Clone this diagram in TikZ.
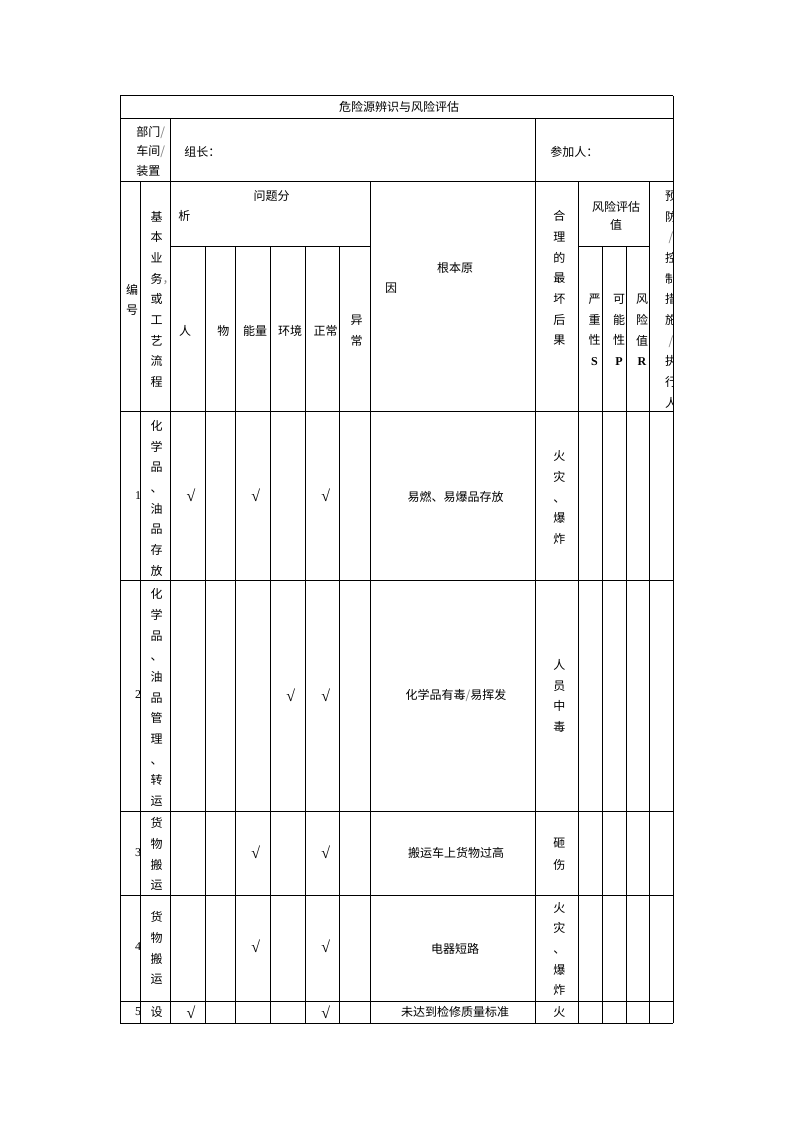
\documentclass[tikz,border=0pt]{standalone}
\usepackage{fontspec}
\newfontfamily\cjk{Noto Sans CJK SC}
\newfontfamily\ser{Liberation Serif}
\begin{document}
\begin{tikzpicture}[x=0.75pt,y=-0.75pt,
  grid/.style={line width=0.75pt,black},
  txt/.style={inner sep=0pt,font=\cjk\fontsize{9}{15.5}\selectfont},
  vt/.style={txt,align=center},
  vtl/.style={txt,align=left,font=\cjk\fontsize{9}{14.6}\selectfont},
  chk/.style={inner sep=0pt,font=\ser\fontsize{12}{12}\selectfont},
  num/.style={inner sep=0pt,anchor=east,font=\ser\fontsize{9}{9}\selectfont},
]
\useasboundingbox (0,0) rectangle (794,1123);
\fill[white] (0,0) rectangle (794,1123);

% ---------- texts ----------
\node[txt] (title) at (399,107) {危险源辨识与风险评估};
\node[vtl,anchor=west] (dept) at (136,151.3) {部门\textcolor{gray}{/}\\车间\textcolor{gray}{/}\\装置};
\node[txt,anchor=west] (leader) at (184,152) {组长：};
\node[txt,anchor=west] (part) at (550,152) {参加人：};

\node[vt] (bh) at (132,300) {编\\号};
\node[vt] (jb) at (156.7,299.3) {基\\本\\业\\务\rlap{\textcolor{gray}{，}}\\或\\工\\艺\\流\\程};
\node[txt] (wtf) at (271.7,196) {问题分};
\node[txt] (xi) at (184.3,216) {析};
\node[txt] (hren) at (185,330.7) {人};
\node[txt] (hwu) at (223.3,330.7) {物};
\node[txt] (hnl) at (255,330.7) {能量};
\node[txt] (hhj) at (290,330.7) {环境};
\node[txt] (hzc) at (325.7,330.7) {正常};
\node[vt] (hyc) at (356.7,330.5) {异\\常};
\node[txt] (gby) at (455,267.7) {根本原};
\node[txt] (yin) at (391,288.3) {因};
\node[vt] (hlg) at (559.3,278.4) {合\\理\\的\\最\\坏\\后\\果};
\node[vt,font=\cjk\fontsize{9}{13.7}\selectfont] (fxpg) at (616,216) {风险评估\\值};
\node[vt] (sS) at (594.5,330) {严\\重\\性\\{\ser\bfseries S}};
\node[vt] (sP) at (619,330) {可\\能\\性\\{\ser\bfseries P}};
\node[vt] (sR) at (642,330) {风\\险\\值\\{\ser\bfseries R}};
\begin{scope}
\clip (649.7,181.7) rectangle (673.3,411.7);
\node[vt] (yf) at (671,299.5) {预\\防\\\textcolor{gray}{/}\\控\\制\\措\\施\\\textcolor{gray}{/}\\执\\行\\人};
\end{scope}

% row 1
\node[num] (n1) at (141.5,495.7) {1};
\node[vt] (b1) at (156.7,498.3) {化\\学\\品\\、\\油\\品\\存\\放};
\node[chk] (c1a) at (191,495.7) {√};
\node[chk] (c1b) at (255.7,495.7) {√};
\node[chk] (c1c) at (325.7,495.7) {√};
\node[txt] (r1) at (455.7,496.7) {易燃、易爆品存放};
\node[vt] (h1) at (559.3,497.8) {火\\灾\\、\\爆\\炸};

% row 2
\node[num] (n2) at (141.5,695) {2};
\node[vt] (b2) at (156.7,697.5) {化\\学\\品\\、\\油\\品\\管\\理\\、\\转\\运};
\node[chk] (c2a) at (290.7,695) {√};
\node[chk] (c2b) at (325.7,695) {√};
\node[txt] (r2) at (456,695.7) {化学品有毒\textcolor{gray}{/}易挥发};
\node[vt] (h2) at (559.3,695.8) {人\\员\\中\\毒};

% row 3
\node[num] (n3) at (141.5,852.7) {3};
\node[vt] (b3) at (156.7,854.3) {货\\物\\搬\\运};
\node[chk] (c3a) at (255.7,852.7) {√};
\node[chk] (c3b) at (325.7,852.7) {√};
\node[txt] (r3) at (456,853.3) {搬运车上货物过高};
\node[vt,font=\cjk\fontsize{9}{16.5}\selectfont] (h3) at (559.3,853.8) {砸\\伤};

% row 4
\node[num] (n4) at (141.5,946.7) {4};
\node[vt] (b4) at (156.7,948.3) {货\\物\\搬\\运};
\node[chk] (c4a) at (255.7,946.7) {√};
\node[chk] (c4b) at (325.7,946.7) {√};
\node[txt] (r4) at (455,949) {电器短路};
\node[vt] (h4) at (559.3,949) {火\\灾\\、\\爆\\炸};

% row 5
\node[num] (n5) at (141.5,1012) {5};
\node[txt] (b5) at (156.7,1012) {设};
\node[chk] (c5a) at (191,1012) {√};
\node[chk] (c5b) at (325.7,1012) {√};
\node[txt] (r5) at (455,1012) {未达到检修质量标准};
\node[txt] (h5) at (559.3,1012) {火};

% ---------- grid ----------
\begin{scope}[grid]
\foreach \y in {96,118.3,181.7,411.7,580.7,811.5,895.3,1001.3,1023}
  \draw (120.3,\y) -- (673.3,\y);
\draw (170.3,246) -- (370.3,246);
\draw (578.7,246) -- (649.7,246);
\draw (120.3,96) -- (120.3,1023);
\draw (673.3,96) -- (673.3,1023);
\draw (170.3,118.3) -- (170.3,1023);
\draw (535.7,118.3) -- (535.7,1023);
\foreach \x in {140.7,370.3,578.7,649.7}
  \draw (\x,181.7) -- (\x,1023);
\foreach \x in {205.3,235.3,270.3,305.7,339.7,602.3,626.7}
  \draw (\x,246) -- (\x,1023);
\end{scope}
\end{tikzpicture}
\end{document}
